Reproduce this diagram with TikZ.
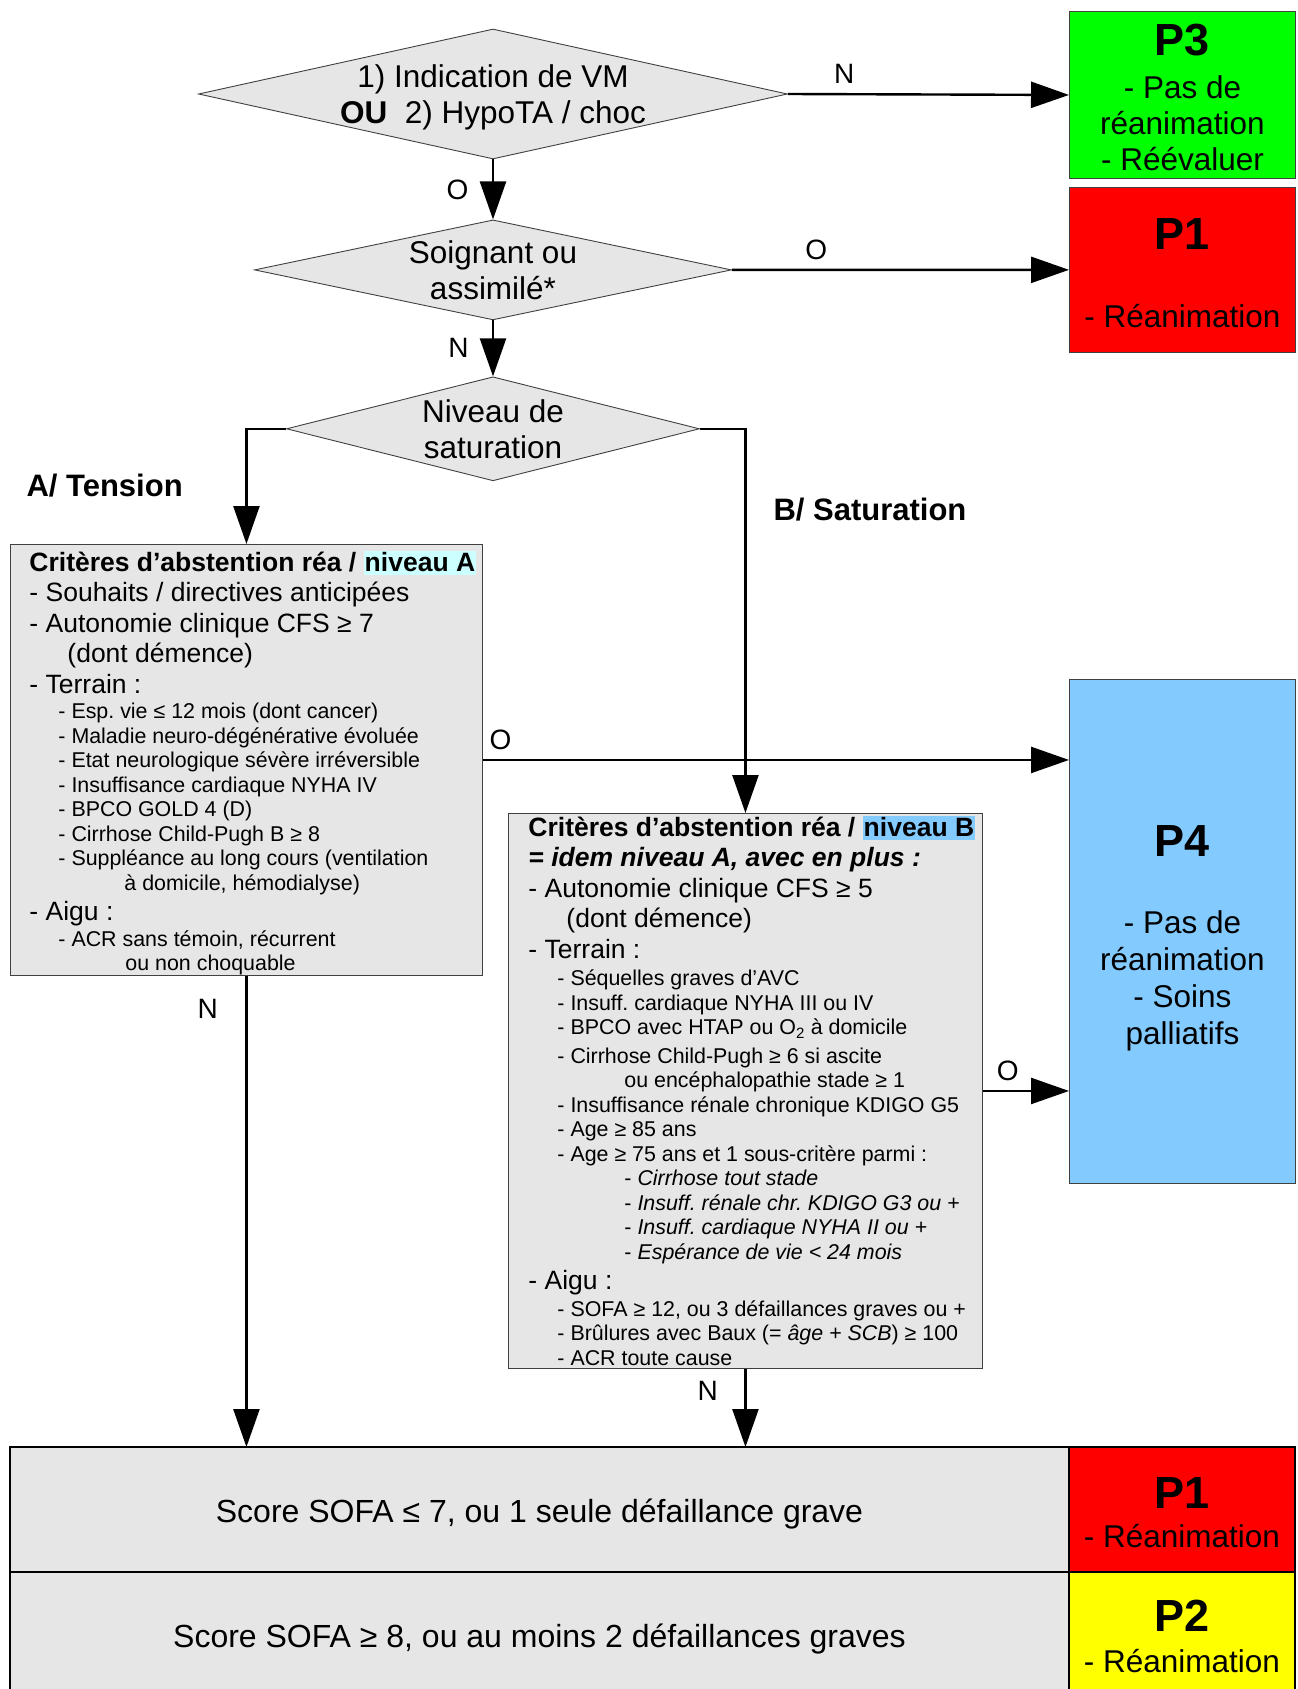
\documentclass[tikz,border=0pt]{standalone}
\usepackage{fontspec}
\setmainfont{Liberation Sans}
\usepackage{xcolor}
\usepackage{tikz}
\usetikzlibrary{shapes.geometric, arrows.meta, positioning}

\definecolor{boxgray}{HTML}{E6E6E6}
\definecolor{p3green}{HTML}{00FF00}
\definecolor{p1red}{HTML}{FF0000}
\definecolor{p2yellow}{HTML}{FFFF00}
\definecolor{p4blue}{HTML}{83CAFF}
\definecolor{hlcyan}{HTML}{CCFFFF}

\newcommand{\bigtext}{\fontsize{26.5}{30.5}\selectfont}
\newcommand{\smalltext}{\fontsize{21.4}{24.5}\selectfont}
\newcommand{\maintext}{\fontsize{31.5}{36}\selectfont}
\newcommand{\titletext}{\fontsize{45}{50}\selectfont\bfseries}
\newcommand{\hl}[2]{{\setlength{\fboxsep}{1pt}\colorbox{#1}{\rule[-3pt]{0pt}{22pt}#2}}}
\newcommand{\critsetup}[1]{\spaceskip=0pt \xspaceskip=0pt \frenchspacing \leftskip=#1\relax}

\tikzset{
    decision/.style={diamond, draw=black!75, fill=boxgray, line width=0.9pt, inner sep=0pt},
    dtext/.style={align=center, font=\maintext},
    critbox/.style={rectangle, draw=black!75, fill=boxgray, line width=0.9pt, anchor=north west, align=left, inner xsep=5pt, inner ysep=0pt, font=\bigtext},
    prio/.style={rectangle, draw=black!75, line width=0.9pt, minimum width=226pt, align=center, font=\maintext, inner sep=0pt},
    scorebox/.style={rectangle, draw=black, line width=1.4pt, fill=boxgray, minimum width=1059pt, font=\fontsize{32}{36}\selectfont, outer sep=0pt, text depth=6pt},
    arrow/.style={line width=2.4pt, -{Triangle[length=38pt, width=26pt]}},
    answer/.style={font=\fontsize{28}{32}\selectfont},
    branch/.style={anchor=west, font=\fontsize{31}{36}\selectfont\bfseries}
}

\begin{document}
\begin{tikzpicture}[x=1pt, y=-1pt]
    \useasboundingbox (0,0) rectangle (1298,1689);

    % Decisions
    \node[decision, minimum width=589pt, minimum height=130pt, label={[dtext, yshift=-3pt]center:{1) Indication de VM\\\textbf{OU}~~2) HypoTA / choc}}] (vm) at (493,94) {};
    \node[decision, below=60pt of vm, minimum width=477pt, minimum height=100pt, label={[dtext]center:{Soignant ou\\assimilé*}}] (soignant) {};
    \node[decision, below=56pt of soignant, minimum width=413pt, minimum height=104pt, label={[dtext]center:{Niveau de\\saturation}}] (sat) {};

    % Priorities
    \node[prio, fill=p3green, minimum height=167pt, anchor=north west] (p3) at (1069,11) {{\titletext\rule{0pt}{36pt}P3}\\[7pt]- Pas de\\réanimation\\- Réévaluer};
    \node[prio, fill=p1red, minimum height=165pt, below=8pt of p3] (p1top) {{\titletext\rule{0pt}{37pt}P1}\\[42pt]- Réanimation};
    \node[prio, fill=p4blue, minimum height=504pt, anchor=north west] (p4) at (1069,679) {{\titletext\rule{0pt}{44pt}P4}\\[41pt]- Pas de\\[1pt]réanimation\\[1pt]- Soins\\[1pt]palliatifs};

    % Branches
    \node[branch] (tension) at (23,486) {A/ Tension};
    \node[branch] (saturation) at (770,510) {B/ Saturation};

    % Criteria
    \node[critbox, text width=462pt, minimum height=431pt] (critA) at (10,544) {\critsetup{14pt}%
        \mbox{\bfseries\rule{0pt}{26.5pt}Critères d’abstention réa / \hl{hlcyan}{niveau A}}\par
        - Souhaits / directives anticipées\par
        - Autonomie clinique CFS ≥ 7\par
        \hspace*{38pt}(dont démence)\par
        - Terrain :\par
        {\smalltext\vspace{1pt}
        \hspace*{29pt}- Esp. vie ≤ 12 mois (dont cancer)\par
        \hspace*{29pt}- Maladie neuro-dégénérative évoluée\par
        \hspace*{29pt}- Etat neurologique sévère irréversible\par
        \hspace*{29pt}- Insuffisance cardiaque NYHA IV\par
        \hspace*{29pt}- BPCO GOLD 4 (D)\par
        \hspace*{29pt}- Cirrhose Child-Pugh B ≥ 8\par
        \hspace*{29pt}- Suppléance au long cours (ventilation\par
        \hspace*{95pt}à domicile, hémodialyse)\par}
        - Aigu :\par
        {\smalltext\vspace{1pt}
        \hspace*{29pt}- ACR sans témoin, récurrent\par
        \hspace*{96pt}ou non choquable\par}};
    \node[critbox, text width=464pt, minimum height=555pt] (critB) at (508,813) {\critsetup{15pt}%
        {\bfseries \mbox{Critères d’abstention réa / \hl{p4blue}{niveau B}}\par
        \itshape = idem niveau A, avec en plus :\par}
        - Autonomie clinique CFS ≥ 5\par
        \hspace*{38pt}(dont démence)\par
        - Terrain :\par
        {\smalltext\vspace{3pt}
        \hspace*{29pt}- Séquelles graves d’AVC\par
        \hspace*{29pt}- Insuff. cardiaque NYHA III ou IV\par
        \hspace*{29pt}- BPCO avec HTAP ou O\textsubscript{2} à domicile\par
        \vspace{4pt}
        \hspace*{29pt}- Cirrhose Child-Pugh ≥ 6 si ascite\par
        \hspace*{96pt}ou encéphalopathie stade ≥ 1\par
        \hspace*{29pt}- Insuffisance rénale chronique KDIGO G5\par
        \hspace*{29pt}- Age ≥ 85 ans\par
        \hspace*{29pt}- Age ≥ 75 ans et 1 sous-critère parmi :\par
        \hspace*{96pt}- \textit{Cirrhose tout stade}\par
        \hspace*{96pt}- \textit{Insuff. rénale chr. KDIGO G3 ou +}\par
        \hspace*{96pt}- \textit{Insuff. cardiaque NYHA II ou +}\par
        \hspace*{96pt}- \textit{Espérance de vie < 24 mois}\par}
        - Aigu :\par
        {\smalltext\vspace{2pt}
        \hspace*{29pt}- SOFA ≥ 12, ou 3 défaillances graves ou +\par
        \hspace*{29pt}- Brûlures avec Baux (= \textit{âge} + \textit{SCB}) ≥ 100\par
        \hspace*{29pt}- ACR toute cause\par}};

    % Scores
    \node[scorebox, minimum height=125pt, text height=32pt, anchor=north west] (sofalow) at (10,1447) {Score SOFA ≤ 7, ou 1 seule défaillance grave};
    \node[prio, fill=p1red, draw=black, line width=1.4pt, outer sep=0pt, minimum height=125pt, right=0pt of sofalow] (p1bottom) {{\titletext\rule{0pt}{38pt}P1}\\[3pt]- Réanimation};
    \node[scorebox, minimum height=128pt, text height=28pt, below=0pt of sofalow] (sofahigh) {Score SOFA ≥ 8, ou au moins 2 défaillances graves};
    \node[prio, fill=p2yellow, draw=black, line width=1.4pt, outer sep=0pt, minimum height=128pt, right=0pt of sofahigh] (p2) {{\titletext P2}\\[5pt]- Réanimation};

    % Arrows
    \draw[arrow] (vm.east) -- node[answer, above=6pt, pos=0.2] {N} (p3.west);
    \draw[arrow] (vm.south) -- node[answer, left=20pt] {O} (soignant.north);
    \draw[arrow] (soignant.east) -- node[answer, above=6pt, pos=0.25] {O} (p1top.west);
    \draw[arrow] (soignant.south) -- node[answer, left=20pt] {N} (sat.north);
    \draw[arrow] (sat.west) -| (critA.north);
    \draw[arrow] (sat.east) -| (critB.north);
    \draw[arrow] (critA.east) -- node[answer, above=6pt, pos=0.03] {O} (critA.east -| p4.west);
    \draw[arrow] (critB.east) -- node[answer, above=6pt, pos=0.29] {O} (critB.east -| p4.west);
    \draw[arrow] (critA.south) -- node[answer, left=24pt, pos=0.07] {N} (critA.south |- sofalow.north);
    \draw[arrow] (critB.south) -- node[answer, left=23pt, pos=0.28] {N} (critB.south |- sofalow.north);
\end{tikzpicture}
\end{document}
